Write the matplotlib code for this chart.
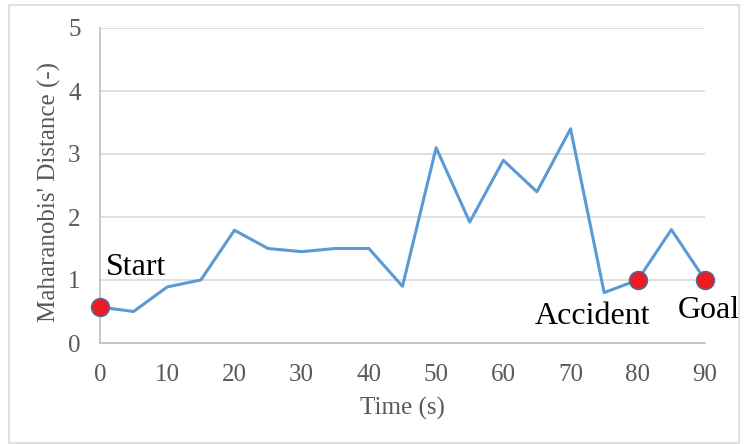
import matplotlib.pyplot as plt
from matplotlib.patches import Rectangle

time_s = [0, 5, 10, 15, 20, 25, 30, 35, 40, 45, 50, 55, 60, 65, 70, 75, 80, 85, 90]
distance = [0.57, 0.5, 0.89, 1.0, 1.79, 1.5, 1.45, 1.5, 1.5, 0.9, 3.1, 1.92, 2.9, 2.4, 3.4, 0.8, 1.0, 1.8, 1.0]
event_names = ["Start", "Accident", "Goal"]
event_times = [0, 80, 90]
event_values = [0.57, 1.0, 1.0]

plt.rcParams['font.family'] = ['Liberation Serif', 'DejaVu Serif']

fig = plt.figure(figsize=(7.44, 4.44), dpi=100)
fig.patches.append(Rectangle((9 / 744, 1 / 444), 730 / 744, 438 / 444, transform=fig.transFigure,
                             fill=False, edgecolor='#d9d9d9', linewidth=1.2))
ax = fig.add_axes([100 / 744, 1 - 343 / 444, 605 / 744, 315 / 444])

ax.plot(time_s, distance, color='#5b9bd5', linewidth=2.2, zorder=3)
ax.plot(event_times, event_values, 'o', color='#ed1c24', markersize=13,
        markeredgecolor='#41719c', markeredgewidth=1.0, zorder=4, clip_on=False)

ax.text(0.8, 1.08, event_names[0], fontsize=23, ha='left', va='baseline', color='black')
ax.text(81.9, 0.30, event_names[1], fontsize=23, ha='right', va='baseline', color='black', clip_on=False)
ax.text(86.0, 0.39, event_names[2], fontsize=23, ha='left', va='baseline', color='black', clip_on=False)

ax.set_xlim(0, 90)
ax.set_ylim(0, 5)
ax.set_xticks(range(0, 91, 10))
ax.set_yticks(range(0, 6))
ax.grid(axis='y', color='#d9d9d9', linewidth=1.2)
ax.set_axisbelow(True)
for s in ['top', 'right']:
    ax.spines[s].set_visible(False)
for s in ['left', 'bottom']:
    ax.spines[s].set_color('#bfbfbf')
    ax.spines[s].set_linewidth(1.2)
ax.tick_params(length=0, labelsize=18, labelcolor='#595959')
ax.tick_params(axis='y', pad=14)
ax.tick_params(axis='x', pad=15)
ax.set_xlabel("Time (s)", fontsize=18, color='#595959', labelpad=8)
ax.set_ylabel("Maharanobis' Distance (-)", fontsize=18, color='#595959')
ax.yaxis.set_label_coords(-39 / 605, 0.48)

fig.savefig("out.png", dpi=100)
